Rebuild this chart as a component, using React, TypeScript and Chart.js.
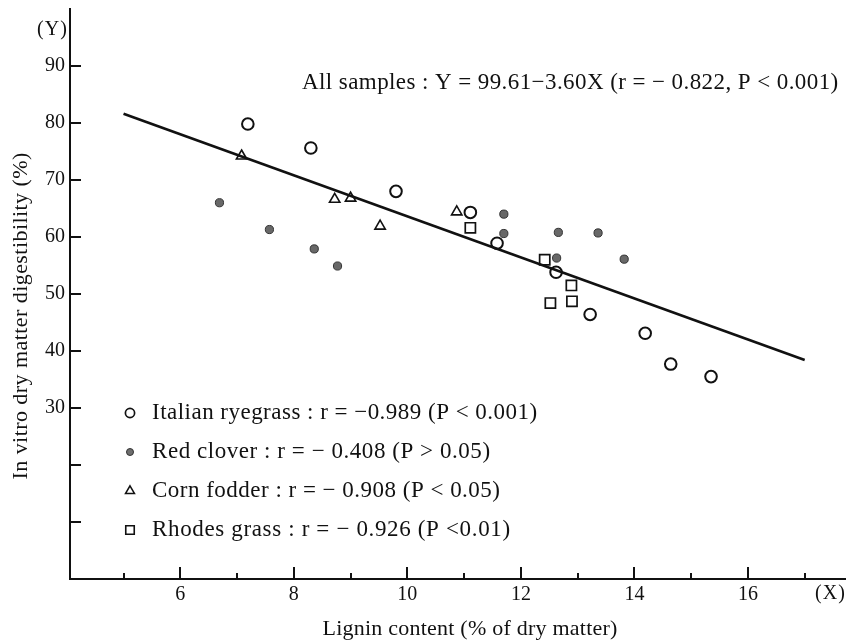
import { useEffect, useRef } from 'react';
import { Chart, registerables } from 'chart.js';
import { drawPoint } from 'chart.js/helpers';

Chart.register(...registerables);

// ---- data ----
const ryegrassX = [7.19, 8.3, 9.8, 11.11, 11.58, 12.62, 13.22, 14.19, 14.64, 15.35];
const ryegrassY = [79.8, 75.6, 68.0, 64.3, 58.9, 53.8, 46.4, 43.1, 37.7, 35.5];
const cloverX = [6.69, 7.57, 8.36, 8.77, 11.7, 11.7, 12.63, 12.66, 13.36, 13.82];
const cloverY = [66.0, 61.3, 57.9, 54.9, 64.0, 60.6, 56.3, 60.8, 60.7, 56.1];
const cornX = [7.08, 8.72, 9.0, 9.52, 10.87];
const cornY = [74.2, 66.6, 66.8, 61.9, 64.4];
const rhodesX = [11.11, 12.42, 12.52, 12.89, 12.9];
const rhodesY = [61.6, 56.0, 48.4, 51.5, 48.7];
const fitX = [5, 17];
const fitY = [81.61, 38.41];

const xTicks = [5, 6, 7, 8, 9, 10, 11, 12, 13, 14, 15, 16, 17];
const xTickLabels = ['', '6', '', '8', '', '10', '', '12', '', '14', '', '16', ''];
const yTicks = [10, 20, 30, 40, 50, 60, 70, 80, 90];
const yTickLabels = ['', '', '30', '40', '50', '60', '70', '80', '90'];

const equationText = 'All samples : Y = 99.61\u22123.60X (r = \u2212 0.822, P < 0.001)';
const legendLabels = [
  'Italian ryegrass : r = \u22120.989 (P < 0.001)',
  'Red clover : r = \u2212 0.408 (P > 0.05)',
  'Corn fodder : r = \u2212 0.908 (P < 0.05)',
  'Rhodes grass : r = \u2212 0.926 (P <0.01)',
];
const xTitle = 'Lignin content (% of dry matter)';
const yTitle = 'In vitro dry matter digestibility (%)';

const FONT = '"Liberation Serif", "DejaVu Serif", serif';
const INK = '#111111';

const zip = (xs: number[], ys: number[]) => xs.map((x, i) => ({ x, y: ys[i] }));

const markerStyles = [
  { pointStyle: 'circle', radius: 4.6, fill: 'rgba(0,0,0,0)', stroke: INK, borderWidth: 1.7 },
  { pointStyle: 'circle', radius: 3.5, fill: '#6e6e6e', stroke: '#333', borderWidth: 1 },
  { pointStyle: 'triangle', radius: 5.2, fill: 'rgba(0,0,0,0)', stroke: INK, borderWidth: 1.5 },
  { pointStyle: 'rect', radius: 6, fill: 'rgba(0,0,0,0)', stroke: INK, borderWidth: 1.6 },
];

function stretchText(
  ctx: CanvasRenderingContext2D,
  text: string,
  x: number,
  y: number,
  width: number,
  align: 'left' | 'center' | 'right'
) {
  ctx.save();
  const c = ctx as any;
  c.letterSpacing = '0px';
  ctx.textAlign = 'left';
  const natural = ctx.measureText(text).width;
  const n = Array.from(text).length;
  const ls = (width - natural) / Math.max(1, n - 1);
  c.letterSpacing = ls.toFixed(2) + 'px';
  const w = natural + ls * (n - 1);
  let sx = x;
  if (align === 'center') sx = x - w / 2;
  else if (align === 'right') sx = x - w;
  ctx.fillText(text, sx, y);
  ctx.restore();
}

const decorPlugin = {
  id: 'decor',
  afterDraw(chart: any) {
    const { ctx, chartArea } = chart;
    const xs = chart.scales.x;
    const ys = chart.scales.y;
    const { left, bottom } = chartArea;
    ctx.save();
    // inward tick marks
    ctx.strokeStyle = INK;
    ctx.lineWidth = 2;
    yTicks.forEach((v) => {
      const py = Math.round(ys.getPixelForValue(v));
      ctx.beginPath();
      ctx.moveTo(left, py);
      ctx.lineTo(left + 11, py);
      ctx.stroke();
    });
    xTicks.forEach((v) => {
      const px = Math.round(xs.getPixelForValue(v));
      const len = v % 2 === 0 ? 12 : 6;
      ctx.beginPath();
      ctx.moveTo(px, bottom);
      ctx.lineTo(px, bottom - len);
      ctx.stroke();
    });

    ctx.fillStyle = INK;
    ctx.textBaseline = 'middle';
    // axis letters
    ctx.font = `20px ${FONT}`;
    stretchText(ctx, '(Y)', 67, 30, 30, 'right');
    stretchText(ctx, '(X)', 830, 594, 30, 'center');

    // equation
    ctx.font = `23px ${FONT}`;
    stretchText(ctx, equationText, 302, 83, 536, 'left');

    // legend
    const rowsY = [413, 452, 491, 530];
    const widths = [385, 338, 348, 358];
    legendLabels.forEach((lab, i) => {
      const m = markerStyles[i];
      ctx.save();
      ctx.fillStyle = m.fill;
      ctx.strokeStyle = m.stroke;
      ctx.lineWidth = m.borderWidth;
      drawPoint(ctx, { pointStyle: m.pointStyle as any, rotation: 0, radius: m.radius, borderWidth: m.borderWidth }, 130, rowsY[i]);
      ctx.restore();
      ctx.fillStyle = INK;
      ctx.font = `23px ${FONT}`;
      stretchText(ctx, lab, 152, rowsY[i], widths[i], 'left');
    });

    // axis titles
    ctx.font = `22px ${FONT}`;
    stretchText(ctx, xTitle, 470, 629, 295, 'center');
    ctx.save();
    ctx.translate(21, 316);
    ctx.rotate(-Math.PI / 2);
    stretchText(ctx, yTitle, 0, 0, 327, 'center');
    ctx.restore();
    ctx.restore();
  },
};

export default function App() {
  const ref = useRef<HTMLCanvasElement | null>(null);
  useEffect(() => {
    if (!ref.current) return;
    const chart = new Chart(ref.current, {
      type: 'scatter',
      data: {
        datasets: [
          {
            type: 'line',
            label: 'All samples',
            data: zip(fitX, fitY),
            borderColor: INK,
            borderWidth: 2.6,
            pointRadius: 0,
            showLine: true,
            fill: false,
            tension: 0,
          } as any,
          {
            label: 'Italian ryegrass',
            data: zip(ryegrassX, ryegrassY),
            pointStyle: 'circle',
            pointRadius: 5.8,
            backgroundColor: 'rgba(0,0,0,0)',
            borderColor: INK,
            borderWidth: 2,
          },
          {
            label: 'Red clover',
            data: zip(cloverX, cloverY),
            pointStyle: 'circle',
            pointRadius: 4.1,
            backgroundColor: '#686868',
            borderColor: '#333333',
            borderWidth: 1,
          },
          {
            label: 'Corn fodder',
            data: zip(cornX, cornY),
            pointStyle: 'triangle',
            pointRadius: 6,
            backgroundColor: 'rgba(0,0,0,0)',
            borderColor: INK,
            borderWidth: 1.6,
          },
          {
            label: 'Rhodes grass',
            data: zip(rhodesX, rhodesY),
            pointStyle: 'rect',
            pointRadius: 7.2,
            backgroundColor: 'rgba(0,0,0,0)',
            borderColor: INK,
            borderWidth: 1.7,
          },
        ],
      },
      options: {
        animation: false,
        responsive: false,
        devicePixelRatio: 1,
        layout: { padding: { left: 8, right: 10, top: 8, bottom: 0 } },
        plugins: {
          legend: { display: false },
          tooltip: { enabled: false },
        },
        scales: {
          x: {
            type: 'linear',
            min: 4.057,
            max: 17.71,
            afterBuildTicks: (s: any) => {
              s.ticks = xTicks.map((v) => ({ value: v }));
            },
            afterFit: (s: any) => {
              s.height = 62;
              s.paddingLeft = 0;
              s.paddingRight = 0;
            },
            grid: { display: false, drawTicks: false },
            border: { display: true, color: INK, width: 2 },
            ticks: {
              autoSkip: false,
              maxRotation: 0,
              padding: 4,
              color: INK,
              font: { family: FONT, size: 20 },
              callback: (v: any) => {
                const i = xTicks.indexOf(Number(v));
                return i >= 0 ? xTickLabels[i] : '';
              },
            },
          },
          y: {
            type: 'linear',
            min: 0,
            max: 100,
            afterBuildTicks: (s: any) => {
              s.ticks = yTicks.map((v) => ({ value: v }));
            },
            afterFit: (s: any) => {
              s.width = 62;
              s.paddingTop = 0;
              s.paddingBottom = 0;
            },
            grid: { display: false, drawTicks: false },
            border: { display: true, color: INK, width: 2 },
            ticks: {
              autoSkip: false,
              padding: 5,
              color: INK,
              font: { family: FONT, size: 20 },
              callback: (v: any) => {
                const i = yTicks.indexOf(Number(v));
                return i >= 0 ? yTickLabels[i] : '';
              },
            },
          },
        },
      },
      plugins: [decorPlugin],
    });
    return () => chart.destroy();
  }, []);

  return (
    <div style={{ position: 'absolute', left: 0, top: 0, width: 855, height: 641, background: '#fff' }}>
      <canvas ref={ref} width={855} height={641} style={{ display: 'block' }} />
    </div>
  );
}
